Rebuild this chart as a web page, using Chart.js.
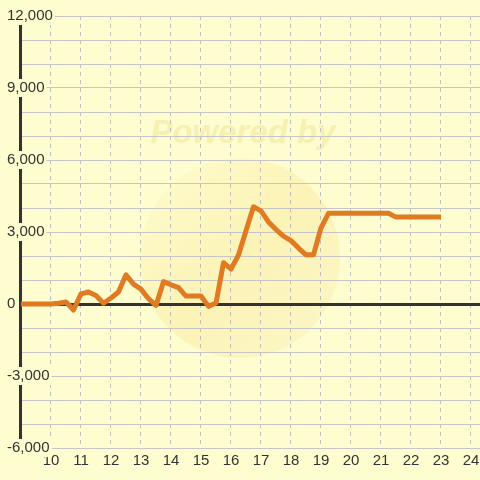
<!doctype html>
<html>
<head>
    <title>Line</title>
    <script src="https://cdn.jsdelivr.net/npm/chart.js@4/dist/chart.umd.min.js"></script>
    <style>
        html, body { margin: 0; padding: 0; background: #FDFDD0; }
        #wrap { width: 480px; height: 480px; }
    </style>
</head>
<body>
    <div id="wrap"><canvas id="canvas" width="480" height="480"></canvas></div>
    <script>
        // hour of day, 15 minute readings
        var hours = [9, 9.5, 10, 10.25, 10.5, 10.75, 11, 11.25, 11.5, 11.75,
                     12, 12.25, 12.5, 12.75, 13, 13.25, 13.5, 13.75, 14, 14.25,
                     14.5, 14.75, 15, 15.25, 15.5, 15.75, 16, 16.25, 16.5, 16.75,
                     17, 17.25, 17.5, 17.75, 18, 18.25, 18.5, 18.75, 19, 19.25,
                     19.5, 20, 20.5, 21, 21.25, 21.5, 22, 22.5, 23];
        var values = [0, 0, 0, 30, 80, -250, 420, 500, 350, 30,
                      250, 500, 1220, 830, 620, 220, -60, 930, 800, 680,
                      330, 330, 330, -100, 40, 1720, 1450, 2040, 3050, 4050,
                      3880, 3420, 3100, 2830, 2640, 2330, 2050, 2050, 3170, 3780,
                      3780, 3780, 3780, 3780, 3780, 3620, 3620, 3620, 3620];
        var hourTicks = [10, 11, 12, 13, 14, 15, 16, 17, 18, 19, 20, 21, 22, 23, 24];
        var yLabelled = [12000, 9000, 6000, 3000, 0, -3000, -6000];

        var BG = '#FDFDD0';
        var FONT = '"Liberation Sans", Arial, sans-serif';

        var watermark = {
            id: 'watermark',
            beforeDraw: function (chart) {
                var c = chart.ctx;
                c.save();
                c.fillStyle = BG;
                c.fillRect(0, 0, chart.width, chart.height);
                var g = c.createLinearGradient(150, 170, 330, 350);
                g.addColorStop(0, 'rgba(255,250,200,0.6)');
                g.addColorStop(0.5, 'rgba(250,236,165,0.6)');
                g.addColorStop(1, 'rgba(248,236,180,0.4)');
                c.fillStyle = g;
                c.beginPath();
                c.arc(240, 258, 100, 0, Math.PI * 2);
                c.fill();
                c.font = 'italic bold 33px ' + FONT;
                c.fillStyle = 'rgba(242,224,140,0.45)';
                c.textAlign = 'center';
                c.textBaseline = 'middle';
                c.fillText('Powered by', 243, 134);
                c.restore();
            }
        };

        var config = {
            type: 'line',
            data: {
                datasets: [{
                    data: hours.map(function (h, i) { return {x: h, y: values[i]}; }),
                    borderColor: '#E07B24',
                    borderWidth: 5,
                    borderJoinStyle: 'round',
                    pointRadius: 0,
                    tension: 0,
                    fill: false
                }]
            },
            options: {
                responsive: false,
                animation: false,
                layout: {padding: {top: 16, right: 0, left: 0, bottom: 0}},
                plugins: {
                    legend: {display: false},
                    title: {display: false},
                    tooltip: {enabled: false}
                },
                scales: {
                    x: {
                        type: 'linear',
                        min: 8.967,
                        max: 24.3,
                        afterBuildTicks: function (s) {
                            s.ticks = hourTicks.map(function (v) { return {value: v}; });
                        },
                        afterFit: function (s) {
                            s.height = 32;
                            s.paddingLeft = 0;
                            s.paddingRight = 0;
                        },
                        border: {display: false, dash: [4, 4]},
                        grid: {color: '#c0c0c0', lineWidth: 1, drawTicks: false},
                        ticks: {
                            padding: 4,
                            color: '#333',
                            maxRotation: 0,
                            autoSkip: false,
                            font: {size: 15, family: FONT}
                        }
                    },
                    y: {
                        min: -6000,
                        max: 12000,
                        afterFit: function (s) { s.width = 20; },
                        border: {display: true, color: '#333', width: 3},
                        grid: {
                            drawTicks: false,
                            color: function (ctx) { return ctx.tick && ctx.tick.value === 0 ? '#333' : '#c6c6c6'; },
                            lineWidth: function (ctx) { return ctx.tick && ctx.tick.value === 0 ? 3 : 1; }
                        },
                        ticks: {
                            stepSize: 1000,
                            mirror: true,
                            padding: -13,
                            color: '#333',
                            showLabelBackdrop: true,
                            backdropColor: BG,
                            backdropPadding: {top: 0, bottom: 0, left: 2, right: 2},
                            font: {size: 15, family: FONT},
                            callback: function (v) {
                                return yLabelled.indexOf(v) >= 0 ? v.toLocaleString('en-US') : '';
                            }
                        }
                    }
                }
            },
            plugins: [watermark]
        };

        window.onload = function () {
            var ctx = document.getElementById('canvas').getContext('2d');
            window.myLine = new Chart(ctx, config);
        };
    </script>
</body>
</html>
